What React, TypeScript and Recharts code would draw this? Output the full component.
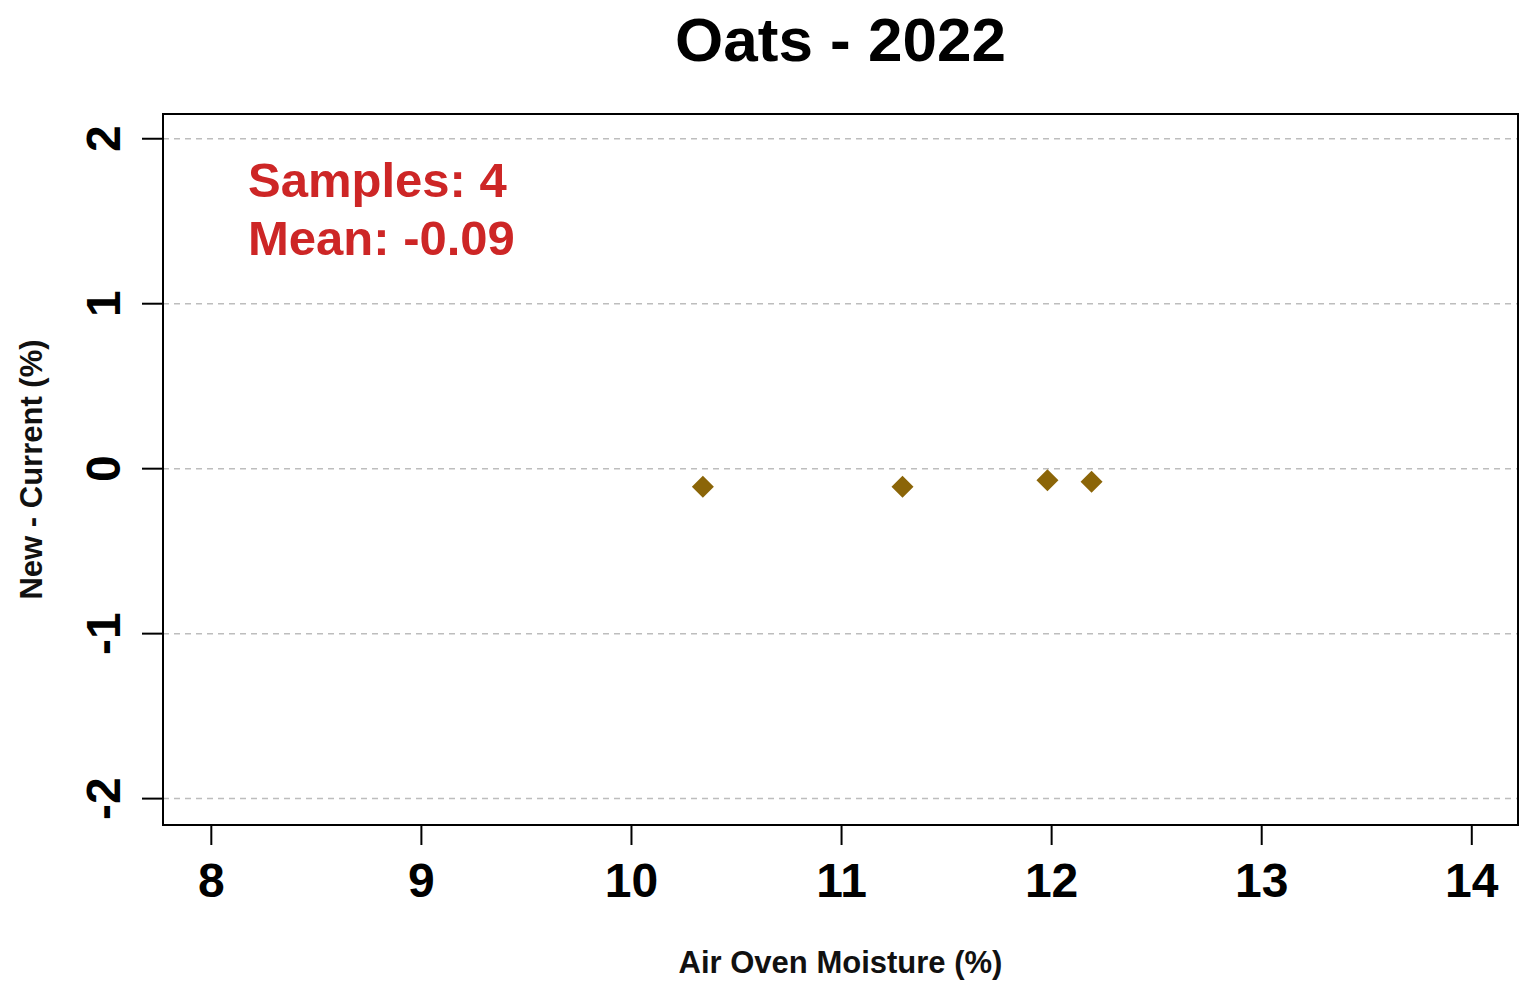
import { ScatterChart, Scatter, XAxis, YAxis, CartesianGrid, ReferenceArea } from "recharts";

const xValues = [10.34, 11.29, 11.98, 12.19];
const yValues = [-0.11, -0.11, -0.07, -0.08];
const xTicks = [8, 9, 10, 11, 12, 13, 14];
const yTicks = [-2, -1, 0, 1, 2];
const xDomain = [7.77, 14.22];
const yDomain = [-2.16, 2.15];
const chartTitle = "Oats - 2022";
const xLabel = "Air Oven Moisture (%)";
const yLabel = "New - Current (%)";
const sampleCount = 4;
const meanLabel = "-0.09";

const points = xValues.map((x, i) => ({ x, y: yValues[i] }));

const font = "'Liberation Sans', Arial, sans-serif";

const Diamond = (props: any) => {
  const { cx, cy } = props;
  const r = 11;
  return (
    <polygon
      points={`${cx},${cy - r} ${cx + r},${cy} ${cx},${cy + r} ${cx - r},${cy}`}
      fill="#8B6508"
    />
  );
};

const XTick = ({ x, y, payload }: any) => (
  <text x={x} y={y} dy={52} textAnchor="middle" fontSize={48} fontWeight="bold" fill="#000" fontFamily={font}>
    {payload.value}
  </text>
);

const YTick = ({ x, y, payload }: any) => (
  <text
    x={x - 22}
    y={y}
    transform={`rotate(-90, ${x - 22}, ${y})`}
    textAnchor="middle"
    fontSize={48}
    fontWeight="bold"
    fill="#000"
    fontFamily={font}
  >
    {payload.value}
  </text>
);

const XLabel = ({ viewBox }: any) => (
  <text
    x={viewBox.x + viewBox.width / 2}
    y={viewBox.y + 148}
    textAnchor="middle"
    fontSize={31}
    fontWeight="bold"
    fill="#111"
    fontFamily={font}
  >
    {xLabel}
  </text>
);

const YLabel = ({ viewBox }: any) => {
  const cy = viewBox.y + viewBox.height / 2;
  return (
    <text
      x={42}
      y={cy}
      transform={`rotate(-90, 42, ${cy})`}
      textAnchor="middle"
      fontSize={31}
      fontWeight="bold"
      fill="#111"
      fontFamily={font}
    >
      {yLabel}
    </text>
  );
};

export default function App() {
  return (
    <div style={{ position: "absolute", left: 0, top: 0, width: 1519, height: 982, background: "#fff", fontFamily: font }}>
      <div
        style={{
          position: "absolute",
          left: 163,
          top: 9,
          width: 1355,
          textAlign: "center",
          fontSize: 62,
          lineHeight: "62px",
          fontWeight: "bold",
          color: "#000",
        }}
      >
        {chartTitle}
      </div>
      <div
        style={{
          position: "absolute",
          left: 248,
          top: 151,
          fontSize: 49,
          lineHeight: "58px",
          fontWeight: "bold",
          color: "#CD2626",
          zIndex: 2,
        }}
      >
        <div>Samples: {sampleCount}</div>
        <div>Mean: {meanLabel}</div>
      </div>
      <ScatterChart width={1519} height={982} margin={{ top: 114, right: 1, bottom: 0, left: 0 }}>
        <CartesianGrid vertical={false} stroke="#bdbdbd" strokeWidth={1.5} strokeDasharray="6 5" />
        <XAxis
          type="number"
          dataKey="x"
          domain={xDomain}
          ticks={xTicks}
          interval={0}
          allowDataOverflow
          height={157}
          tickSize={20}
          tickMargin={0}
          axisLine={false}
          tickLine={{ stroke: "#000", strokeWidth: 2 }}
          tick={<XTick />}
          label={<XLabel />}
        />
        <YAxis
          type="number"
          dataKey="y"
          domain={yDomain}
          ticks={yTicks}
          interval={0}
          allowDataOverflow
          width={163}
          tickSize={21}
          tickMargin={0}
          axisLine={false}
          tickLine={{ stroke: "#000", strokeWidth: 2 }}
          tick={<YTick />}
          label={<YLabel />}
        />
        <ReferenceArea
          x1={xDomain[0]}
          x2={xDomain[1]}
          y1={yDomain[0]}
          y2={yDomain[1]}
          fill="none"
          fillOpacity={0}
          stroke="#000"
          strokeWidth={2}
        />
        <Scatter data={points} shape={<Diamond />} isAnimationActive={false} />
      </ScatterChart>
    </div>
  );
}
